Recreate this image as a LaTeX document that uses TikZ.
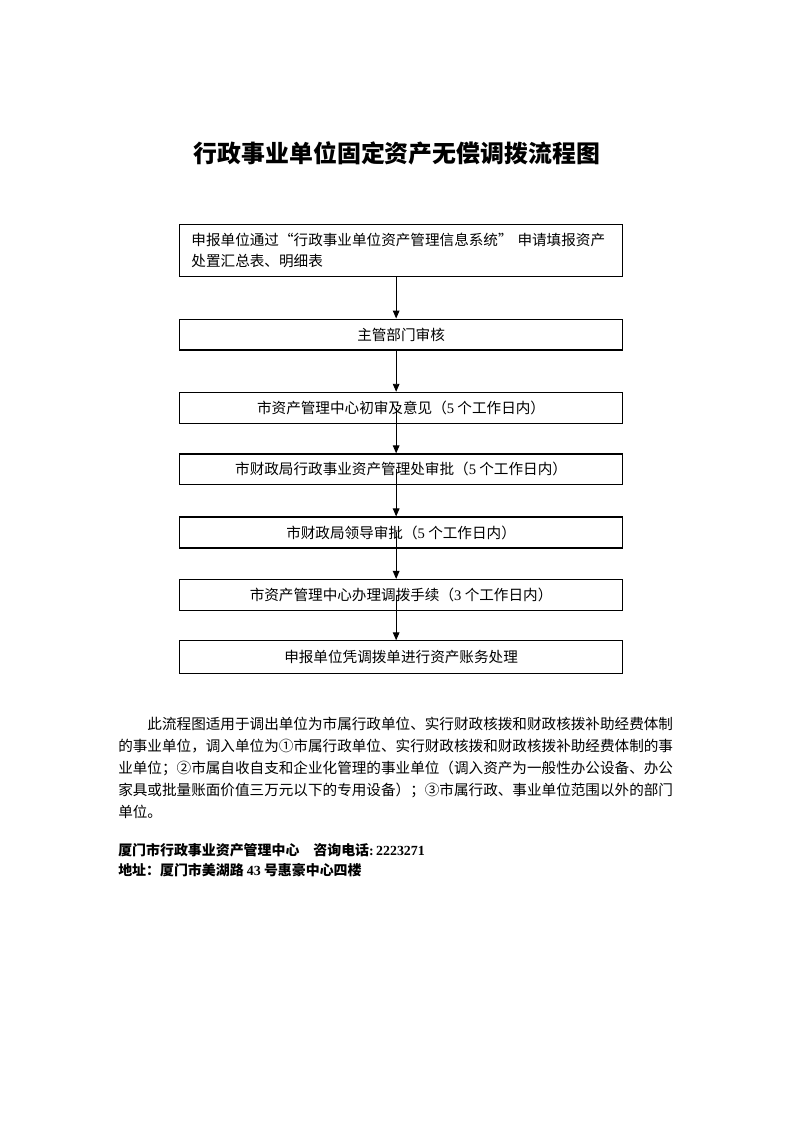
\documentclass[tikz,border=0pt]{standalone}
\usepackage{fontspec}
\setmainfont{Noto Sans CJK SC}
\newfontfamily\lat{Liberation Serif}
\usetikzlibrary{arrows.meta}

\tikzset{
  stepbox/.style={draw, line width=0.9pt, minimum width=11.74cm, minimum height=0.82cm,
    inner sep=0pt, font=\fontsize{11}{16}\selectfont},
  flow/.style={-{Triangle[length=6pt,width=5pt]}, line width=0.7pt},
  notetext/.style={anchor=west, inner sep=0pt, font=\fontsize{11}{16}\selectfont},
  foottext/.style={anchor=west, inner sep=0pt, font=\fontsize{10.5}{14}\selectfont\bfseries},
}

\begin{document}
\begin{tikzpicture}
\useasboundingbox (0, 0) rectangle (21, 29.71);

\node[font=\fontsize{18}{22}\selectfont\bfseries] (title) at (10.51, 25.66) {行政事业单位固定资产无偿调拨流程图};

% steps
\node[stepbox, minimum height=1.37cm, text width=11.1cm, align=left] (b1) at (10.62, 23.07)
  {申报单位通过“行政事业单位资产管理信息系统” 申请填报资产\\处置汇总表、明细表};
\node[stepbox] (b2) at (10.62, 20.85) {主管部门审核};
\node[stepbox] (b3) at (10.62, 18.91) {市资产管理中心初审及意见（{\lat 5} 个工作日内）};
\node[stepbox] (b4) at (10.62, 17.28) {市财政局行政事业资产管理处审批（{\lat 5} 个工作日内）};
\node[stepbox] (b5) at (10.62, 15.61) {市财政局领导审批（{\lat 5} 个工作日内）};
\node[stepbox] (b6) at (10.62, 13.955) {市资产管理中心办理调拨手续（{\lat 3} 个工作日内）};
\node[stepbox, minimum height=0.86cm] (b7) at (10.62, 12.31) {申报单位凭调拨单进行资产账务处理};

% arrows
\draw[flow] ([xshift=-1.3mm]b1.south) -- ([xshift=-1.3mm]b2.north);
\draw[flow] ([xshift=-1.3mm]b2.south) -- ([xshift=-1.3mm]b3.north);
\draw[flow] ([xshift=-1.3mm]b3.center) -- ([xshift=-1.3mm]b4.north);
\draw[flow] ([xshift=-1.3mm]b4.center) -- ([xshift=-1.3mm]b5.north);
\draw[flow] ([xshift=-1.3mm]b5.center) -- ([xshift=-1.3mm]b6.north);
\draw[flow] ([xshift=-1.3mm]b6.center) -- ([xshift=-1.3mm]b7.north);

% note
\node[notetext] (n1) at (3.125, 10.54) {\hspace*{2em}此流程图适用于调出单位为市属行政单位、实行财政核拨和财政核拨补助经费体制};
\node[notetext] (n2) at (3.125, 9.956) {的事业单位，调入单位为①市属行政单位、实行财政核拨和财政核拨补助经费体制的事};
\node[notetext] (n3) at (3.125, 9.374) {业单位；②市属自收自支和企业化管理的事业单位（调入资产为一般性办公设备、办公};
\node[notetext] (n4) at (3.125, 8.792) {家具或批量账面价值三万元以下的专用设备）；③市属行政、事业单位范围以外的部门};
\node[notetext] (n5) at (3.125, 8.21) {单位。};

\node[foottext] (f1) at (3.125, 7.20) {厦门市行政事业资产管理中心\quad 咨询电话{\lat\bfseries :\,2223271}};
\node[foottext] (f2) at (3.125, 6.673) {地址：厦门市美湖路 {\lat\bfseries 43} 号惠豪中心四楼};

\end{tikzpicture}
\end{document}
